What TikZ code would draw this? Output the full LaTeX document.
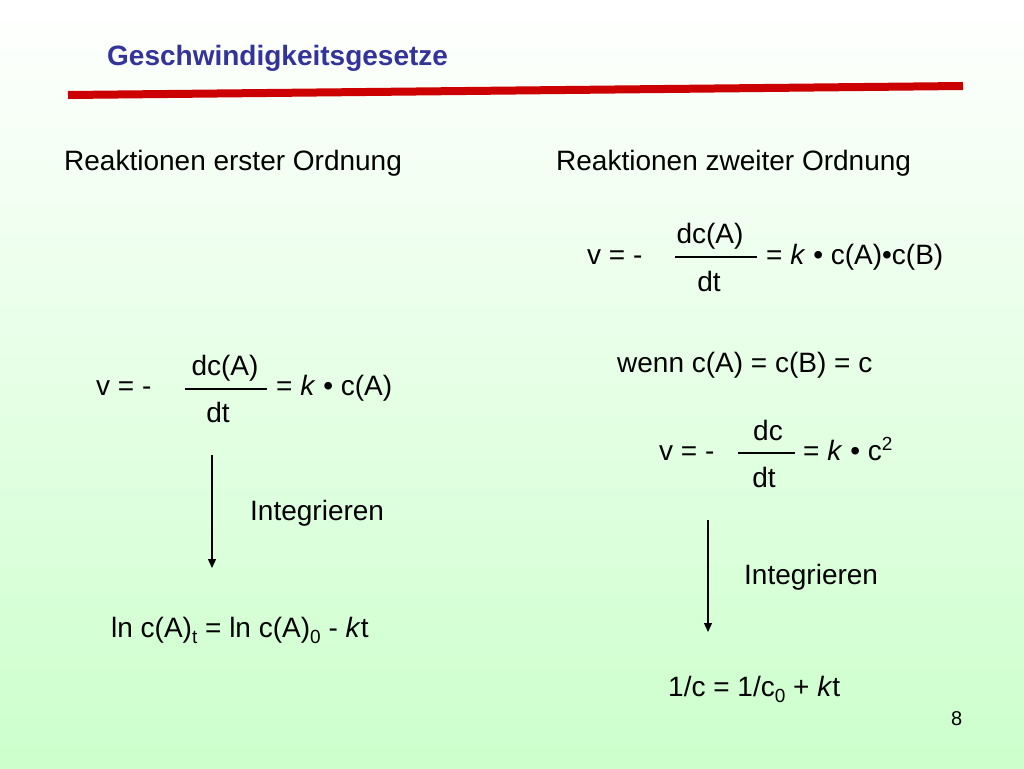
\documentclass[tikz,border=0pt]{standalone}
\usepackage{fontspec}
\setmainfont{Liberation Sans}
\usetikzlibrary{arrows.meta}
\definecolor{titleblue}{RGB}{51,51,153}
\definecolor{redline}{RGB}{204,0,0}
\definecolor{bggreen}{RGB}{204,255,204}
\newcommand{\mysub}[1]{\raisebox{-6pt}{\fontsize{19}{19}\selectfont #1}}
\newcommand{\mysup}[1]{\raisebox{10pt}{\fontsize{19}{19}\selectfont #1}}
\begin{document}
\begin{tikzpicture}[x=1pt,y=-1pt,
  txt/.style={anchor=base west,inner sep=0pt,font=\fontsize{28}{34}\selectfont},
  ctxt/.style={anchor=base,inner sep=0pt,font=\fontsize{28}{34}\selectfont},
  fracline/.style={line width=1.3pt},
  arr/.style={line width=1.3pt,-{Triangle[length=9pt,width=8pt]}}]
\shade[top color=white,bottom color=bggreen] (0,0) rectangle (1024,768);
\useasboundingbox (0,0) rectangle (1024,768);
% title
\node[anchor=base west,inner sep=0pt,text=titleblue,font=\fontsize{28}{34}\selectfont\bfseries] (title) at (107,66) {Geschwindigkeitsgesetze};
\coordinate (rl1) at (68,95);
\coordinate (rl2) at (963,86);
\draw[redline,line width=8pt] (rl1) -- (rl2);
% headings
\node[txt] (h1) at (64,170) {Reaktionen erster Ordnung};
\node[txt] (h2) at (556,170) {Reaktionen zweiter Ordnung};
% left equation
\node[txt] (lv) at (96,395) {v = -};
\node[ctxt] (lnum) at (225,375) {dc(A)};
\coordinate (lf1) at (185,389);
\coordinate (lf2) at (267,389);
\draw[fracline] (lf1) -- (lf2);
\node[ctxt] (lden) at (218,422) {dt};
\node[txt] (lrhs) at (276,395) {= \textit{k} • c(A)};
\coordinate (la1) at (212,455);
\coordinate (la2) at (212,568);
\draw[arr] (la1) -- (la2);
\node[txt] (lint) at (250,520) {Integrieren};
\node[txt] (lres) at (111,637) {ln c(A)\mysub{t} = ln c(A)\mysub{0} - \textit{k}t};
% right equation 1
\node[txt] (rv) at (587,264) {v = -};
\node[ctxt] (rnum) at (710,243) {dc(A)};
\coordinate (rf1) at (675,257);
\coordinate (rf2) at (757,257);
\draw[fracline] (rf1) -- (rf2);
\node[ctxt] (rden) at (709,291) {dt};
\node[txt] (rrhs) at (766,264) {= \textit{k} • c(A)•c(B)};
\node[txt] (wenn) at (617,372) {wenn c(A) = c(B) = c};
% right equation 2
\node[txt] (r2v) at (659,460) {v = -};
\node[ctxt] (r2num) at (768,440) {dc};
\coordinate (r2f1) at (738,453);
\coordinate (r2f2) at (795,453);
\draw[fracline] (r2f1) -- (r2f2);
\node[ctxt] (r2den) at (764,487) {dt};
\node[txt] (r2rhs) at (803,460) {= \textit{k} • c\mysup{2}};
\coordinate (ra1) at (708,520);
\coordinate (ra2) at (708,632);
\draw[arr] (ra1) -- (ra2);
\node[txt] (rint) at (744,584) {Integrieren};
\node[txt] (rres) at (668,696) {1/c = 1/c\mysub{0} + \textit{k}t};
% page number
\node[anchor=base west,inner sep=0pt,font=\fontsize{20}{24}\selectfont] (pnum) at (951,725) {8};
\end{tikzpicture}
\end{document}
